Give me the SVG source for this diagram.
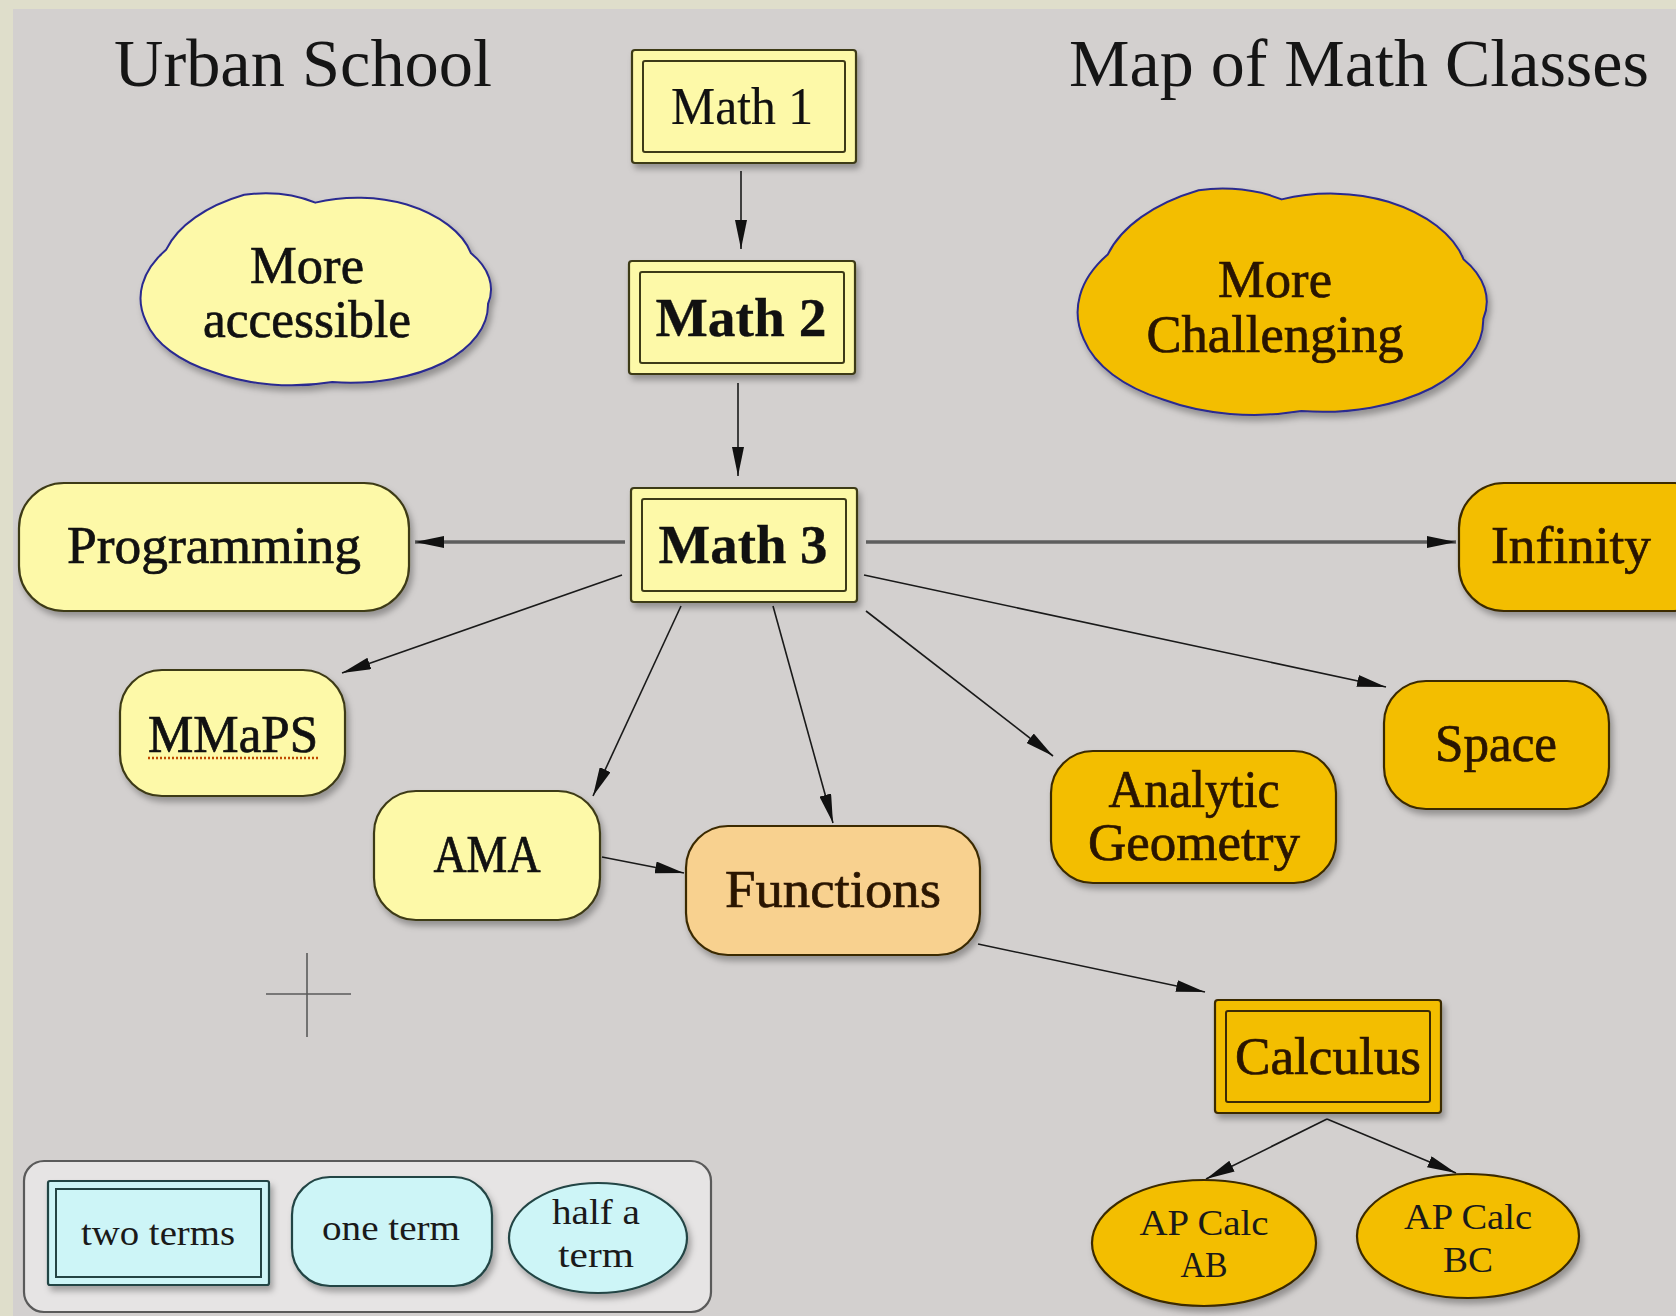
<svg xmlns="http://www.w3.org/2000/svg" xmlns:xlink="http://www.w3.org/1999/xlink" width="1676" height="1316" viewBox="0 0 1676 1316">
<style>
.lbl{font-family:"Liberation Serif","Times New Roman",serif;font-size:52px;fill:#111;stroke:#111;stroke-width:0.7;text-anchor:middle}
.lbl.o{fill:#2a1500;stroke:#2a1500}
.bold{font-weight:bold;font-size:55px;stroke-width:0.3}
.reg{stroke-width:0.2}
.title{font-family:"Liberation Serif","Times New Roman",serif;font-size:68px;fill:#151515}
.small{font-family:"Liberation Serif","Times New Roman",serif;font-size:36px;fill:#1a1a1a;text-anchor:middle}
.ny{fill:#fdf9a8;stroke:#3d3a17;stroke-width:2.2}
.no{fill:#f3be00;stroke:#3b2a05;stroke-width:2.2}
.nf{fill:#f8d18f;stroke:#3b2a05;stroke-width:2.2}
.cy{fill:#cdf5f7;stroke:#234444;stroke-width:2.2}
.in{fill:none;stroke-width:2}
.edge{fill:none;stroke:#1a1a1a;stroke-width:1.6;marker-end:url(#ah)}
.edge.gray{stroke:#5e5e5e;stroke-width:3.5}
.cloudY{fill:#fdf9a8;stroke:#2a2a90;stroke-width:2}
.cloudO{fill:#f3be00;stroke:#2a2a90;stroke-width:2}
</style>
<defs>
<marker id="ah" markerUnits="userSpaceOnUse" markerWidth="30" markerHeight="12" refX="29" refY="6" orient="auto">
<path d="M0,0 L29,6 L0,12 Z" fill="#111"/>
</marker>
<filter id="sh" x="-10%" y="-10%" width="130%" height="140%">
<feDropShadow dx="3" dy="5" stdDeviation="3" flood-color="#000" flood-opacity="0.3"/>
</filter>
<path id="cloud" vector-effect="non-scaling-stroke" d="M6,32 A45,45 0 0 1 29,4 A26,26 0 0 1 50,8 A32,32 0 0 1 77,9 A38,38 0 0 1 96,34 A32,32 0 0 1 101,60 A40,40 0 0 1 88,90 A42,42 0 0 1 55,100 A43,43 0 0 1 20,95 A40,40 0 0 1 0,69 A45,45 0 0 1 6,32 Z"/>
</defs>

<rect x="0" y="0" width="1676" height="1316" fill="#dfdecb"/>
<rect x="13" y="9" width="1663" height="1307" fill="#d3d0cf"/>

<text class="title" x="114" y="86" textLength="378" lengthAdjust="spacingAndGlyphs">Urban School</text>
<text class="title" x="1069" y="86" textLength="580" lengthAdjust="spacingAndGlyphs">Map of Math Classes</text>

<g id="cross" stroke="#5a5a5a" stroke-width="1.6">
<line x1="307" y1="953" x2="307" y2="1037"/>
<line x1="266" y1="994" x2="351" y2="994"/>
</g>

<g id="connectors">
<line class="edge" x1="741" y1="171" x2="741" y2="249"/>
<line class="edge" x1="738" y1="383" x2="738" y2="476"/>
<line class="edge gray" x1="625" y1="542" x2="415" y2="542"/>
<line class="edge gray" x1="866" y1="542" x2="1456" y2="542"/>
<line class="edge" x1="622" y1="575" x2="342" y2="673"/>
<line class="edge" x1="681" y1="606" x2="593" y2="796"/>
<line class="edge" x1="773" y1="606" x2="833" y2="823"/>
<line class="edge" x1="602" y1="857" x2="684" y2="873"/>
<line class="edge" x1="866" y1="611" x2="1053" y2="756"/>
<line class="edge" x1="864" y1="575" x2="1386" y2="687"/>
<line class="edge" x1="978" y1="944" x2="1205" y2="992"/>
<line class="edge" x1="1327" y1="1119" x2="1206" y2="1179"/>
<line class="edge" x1="1327" y1="1119" x2="1456" y2="1173"/>
</g>

<g id="cloud-accessible">
<g filter="url(#sh)"><use xlink:href="#cloud" class="cloudY" transform="translate(146,187) scale(3.386,1.95)"/></g>
<text class="lbl" x="307" y="283" textLength="114" lengthAdjust="spacingAndGlyphs">More</text>
<text class="lbl" x="307" y="337" textLength="208" lengthAdjust="spacingAndGlyphs">accessible</text>
</g>

<g id="cloud-challenging">
<g filter="url(#sh)"><use xlink:href="#cloud" class="cloudO" transform="translate(1084,181) scale(3.953,2.3)"/></g>
<text class="lbl o" x="1275" y="297" textLength="114" lengthAdjust="spacingAndGlyphs">More</text>
<text class="lbl o" x="1275" y="352" textLength="257" lengthAdjust="spacingAndGlyphs">Challenging</text>
</g>

<g id="math1">
<rect class="ny" x="632" y="50" width="224" height="113" rx="3" filter="url(#sh)"/>
<rect class="in" stroke="#3d3a17" x="643" y="61" width="202" height="91" rx="2"/>
<text class="lbl reg" x="742" y="124" textLength="142" lengthAdjust="spacingAndGlyphs">Math 1</text>
</g>

<g id="math2">
<rect class="ny" x="629" y="261" width="226" height="113" rx="3" filter="url(#sh)"/>
<rect class="in" stroke="#3d3a17" x="640" y="272" width="204" height="91" rx="2"/>
<text class="lbl bold" x="741" y="336" textLength="171" lengthAdjust="spacingAndGlyphs">Math 2</text>
</g>

<g id="math3">
<rect class="ny" x="631" y="488" width="226" height="114" rx="3" filter="url(#sh)"/>
<rect class="in" stroke="#3d3a17" x="642" y="499" width="204" height="92" rx="2"/>
<text class="lbl bold" x="743" y="563" textLength="169" lengthAdjust="spacingAndGlyphs">Math 3</text>
</g>

<g id="programming">
<rect class="ny" x="19" y="483" width="390" height="128" rx="45" filter="url(#sh)"/>
<text class="lbl" x="214" y="563" textLength="294" lengthAdjust="spacingAndGlyphs">Programming</text>
</g>

<g id="infinity">
<rect class="no" x="1459" y="483" width="260" height="128" rx="45" filter="url(#sh)"/>
<text class="lbl o" x="1571" y="563" textLength="160" lengthAdjust="spacingAndGlyphs">Infinity</text>
</g>

<g id="mmaps">
<rect class="ny" x="120" y="670" width="225" height="126" rx="42" filter="url(#sh)"/>
<text class="lbl" x="233" y="752" textLength="170" lengthAdjust="spacingAndGlyphs">MMaPS</text>
<line x1="148" y1="758" x2="318" y2="758" stroke="#c04a00" stroke-width="2.5" stroke-dasharray="2,2"/>
</g>

<g id="ama">
<rect class="ny" x="374" y="791" width="226" height="129" rx="42" filter="url(#sh)"/>
<text class="lbl" x="487" y="872" textLength="107" lengthAdjust="spacingAndGlyphs">AMA</text>
</g>

<g id="functions">
<rect class="nf" x="686" y="826" width="294" height="129" rx="42" filter="url(#sh)"/>
<text class="lbl o" x="833" y="907" textLength="216" lengthAdjust="spacingAndGlyphs">Functions</text>
</g>

<g id="analytic-geometry">
<rect class="no" x="1051" y="751" width="285" height="132" rx="42" filter="url(#sh)"/>
<text class="lbl o" x="1194" y="807" textLength="171" lengthAdjust="spacingAndGlyphs">Analytic</text>
<text class="lbl o" x="1194" y="860" textLength="212" lengthAdjust="spacingAndGlyphs">Geometry</text>
</g>

<g id="space">
<rect class="no" x="1384" y="681" width="225" height="128" rx="42" filter="url(#sh)"/>
<text class="lbl o" x="1496" y="761" textLength="122" lengthAdjust="spacingAndGlyphs">Space</text>
</g>

<g id="calculus">
<rect class="no" x="1215" y="1000" width="226" height="113" rx="3" filter="url(#sh)"/>
<rect class="in" stroke="#3b2a05" x="1226" y="1011" width="204" height="91" rx="2"/>
<text class="lbl o" x="1328" y="1074" textLength="186" lengthAdjust="spacingAndGlyphs">Calculus</text>
</g>

<g id="apcalc-ab">
<ellipse class="no" cx="1204" cy="1243" rx="112" ry="63" filter="url(#sh)"/>
<text class="small" x="1204" y="1235" textLength="129" lengthAdjust="spacingAndGlyphs" fill="#2a1500">AP Calc</text>
<text class="small" x="1204" y="1277" textLength="47" lengthAdjust="spacingAndGlyphs" fill="#2a1500">AB</text>
</g>

<g id="apcalc-bc">
<ellipse class="no" cx="1468" cy="1236" rx="111" ry="62" filter="url(#sh)"/>
<text class="small" x="1468" y="1229" textLength="128" lengthAdjust="spacingAndGlyphs" fill="#2a1500">AP Calc</text>
<text class="small" x="1468" y="1272" textLength="50" lengthAdjust="spacingAndGlyphs" fill="#2a1500">BC</text>
</g>

<g id="legend">
<rect x="24" y="1161" width="687" height="151" rx="20" fill="#e6e4e4" stroke="#5a5a5a" stroke-width="2.2"/>
<g id="legend-two-terms">
<rect class="cy" x="48" y="1181" width="221" height="104" rx="2" filter="url(#sh)"/>
<rect class="in" stroke="#234444" x="56" y="1189" width="205" height="88"/>
<text class="small" x="158" y="1245" textLength="154" lengthAdjust="spacingAndGlyphs">two terms</text>
</g>
<g id="legend-one-term">
<rect class="cy" x="292" y="1177" width="200" height="109" rx="38" filter="url(#sh)"/>
<text class="small" x="391" y="1240" textLength="138" lengthAdjust="spacingAndGlyphs">one term</text>
</g>
<g id="legend-half-term">
<ellipse class="cy" cx="598" cy="1238" rx="89" ry="55" filter="url(#sh)"/>
<text class="small" x="596" y="1224" textLength="88" lengthAdjust="spacingAndGlyphs">half a</text>
<text class="small" x="596" y="1267" textLength="76" lengthAdjust="spacingAndGlyphs">term</text>
</g>
</g>
</svg>
